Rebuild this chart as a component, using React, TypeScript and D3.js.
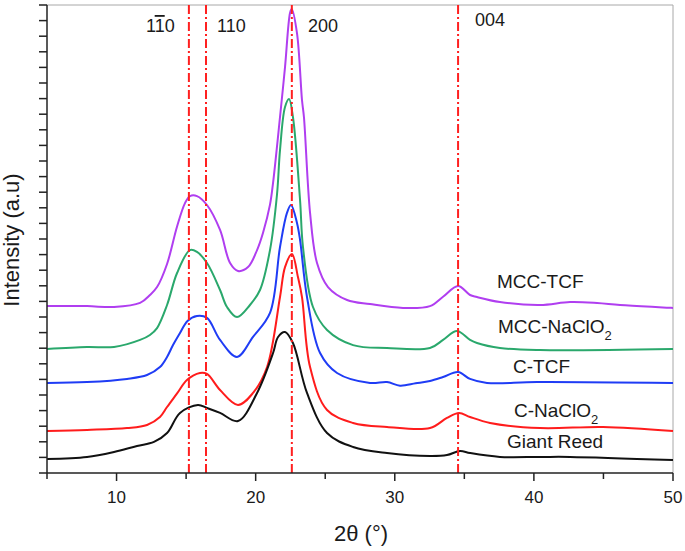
import React from "react";
import * as d3 from "d3";

type P = [number, number];

const seriesNames = ["MCC-TCF", "MCC-NaClO2", "C-TCF", "C-NaClO2", "Giant Reed"];

const mccTcf: P[] = [[5.0,1070],[7.88,1070],[9.82,1064],[11.69,1090],[12.40,1141],[12.91,1192],[13.63,1340],[14.35,1580],[14.92,1730],[15.28,1775],[15.78,1775],[16.50,1718],[17.44,1558],[18.16,1346],[18.73,1295],[19.45,1320],[20.10,1429],[20.53,1540],[21.03,1720],[21.25,1860],[21.75,2282],[22.11,2602],[22.47,2949],[22.59,2974],[22.97,2820],[23.33,2391],[23.47,2282],[23.91,1667],[24.41,1346],[25.20,1192],[26.57,1109],[28.22,1083],[30.59,1058],[32.53,1070],[33.47,1130],[34.55,1199],[35.41,1141],[35.91,1128],[37.56,1096],[40.44,1077],[42.60,1096],[44.54,1090],[46.19,1077],[50.0,1058]];

const mccNaClO2: P[] = [[5.0,795],[7.88,808],[9.82,808],[11.69,853],[12.40,885],[12.91,929],[13.63,1077],[14.35,1282],[15.28,1429],[15.78,1417],[16.50,1346],[17.44,1173],[17.94,1064],[18.66,1000],[19.59,1077],[20.31,1173],[21.03,1429],[21.53,1782],[21.75,2070],[22.11,2346],[22.40,2397],[22.68,2282],[23.19,1750],[23.40,1449],[24.12,1064],[25.13,917],[27.00,820],[29.44,801],[32.53,801],[33.47,853],[34.47,910],[35.41,853],[35.91,833],[37.56,801],[40.44,788],[50.0,795]];

const cTcf: P[] = [[5.0,577],[7.88,583],[10.75,603],[12.19,628],[13.12,679],[13.63,744],[14.06,820],[14.56,897],[15.10,975],[15.78,1006],[16.50,994],[17.44,853],[18.66,744],[19.81,872],[21.03,1026],[21.75,1449],[22.25,1667],[22.54,1718],[22.97,1603],[23.19,1494],[23.69,1128],[24.63,769],[25.85,641],[28.22,577],[29.44,583],[30.38,560],[31.5,575],[32.53,590],[33.47,615],[34.55,647],[35.41,603],[36.63,577],[40.22,583],[50.0,577]];

const cNaClO2: P[] = [[5.0,269],[7.88,276],[10.75,288],[12.19,308],[13.12,359],[13.63,423],[14.35,510],[15.06,596],[15.99,641],[16.50,635],[17.44,532],[18.73,436],[19.81,513],[20.82,679],[21.75,1128],[22.11,1320],[22.61,1404],[23.04,1256],[23.33,1128],[23.91,679],[25.13,404],[27.00,321],[29.44,295],[32.53,288],[33.75,353],[34.62,385],[35.41,359],[36.85,321],[40.44,288],[44.97,295],[50.0,269]];

const giantReed: P[] = [[5.0,90],[7.88,103],[9.82,135],[11.47,173],[12.69,199],[13.63,256],[14.56,385],[15.85,436],[16.50,417],[17.44,385],[18.73,333],[20.10,513],[21.25,769],[21.61,872],[22.11,904],[22.68,833],[23.69,513],[25.13,256],[27.00,167],[29.44,128],[32.53,109],[33.75,115],[34.69,141],[35.41,128],[37.56,103],[40.44,103],[42.60,103],[50.0,83]];

const seriesData: P[][] = [mccTcf, mccNaClO2, cTcf, cNaClO2, giantReed];
const seriesColors = ["#b03ef0", "#2aa86c", "#1f3cf5", "#ff1c1c", "#111111"];

const refLines = [15.2, 16.43, 22.6, 34.55];
const xTicks = [10, 20, 30, 40, 50];

export default function App() {
  const W = 685, H = 551;
  const left = 47, right = 673, top = 5, bottom = 473;
  const x = d3.scaleLinear().domain([5, 50]).range([left, right]);
  const y = d3.scaleLinear().domain([0, 3000]).range([bottom, top]);
  const line = d3.line<P>().x(d => x(d[0])).y(d => y(d[1])).curve(d3.curveCatmullRom.alpha(0.5));
  const minorX = d3.range(5, 51, 5);
  const yTicks = d3.range(0, 3001, 100);
  const font = "'Liberation Sans', Arial, sans-serif";

  const labelPos: { x: number; y: number; main: string; sub?: string }[] = [
    { x: 497, y: 288, main: "MCC-TCF" },
    { x: 498, y: 333, main: "MCC-NaClO", sub: "2" },
    { x: 513, y: 373, main: "C-TCF" },
    { x: 514, y: 417, main: "C-NaClO", sub: "2" },
    { x: 507, y: 448, main: "Giant Reed" },
  ];

  return (
    <svg width={W} height={H} style={{ position: "fixed", left: 0, top: 0, background: "#fff" }} fontFamily={font}>
      <rect x={0} y={0} width={W} height={H} fill="#fff" />
      <line x1={left} x2={right} y1={top} y2={top} stroke="#a8a8a8" strokeWidth={1} />
      <line x1={right} x2={right} y1={top} y2={bottom} stroke="#a8a8a8" strokeWidth={1} />

      {seriesData.map((s, i) => (
        <path key={seriesNames[i]} d={line(s) || ""} fill="none" stroke={seriesColors[i]} strokeWidth={2} strokeLinejoin="round" />
      ))}

      {refLines.map(v => (
        <line key={v} x1={x(v)} x2={x(v)} y1={top} y2={bottom} stroke="#ff2020" strokeWidth={2} strokeDasharray="9,3,2,3" />
      ))}

      <line x1={left} x2={left} y1={top} y2={bottom} stroke="#222" strokeWidth={1.5} />
      <line x1={left} x2={right} y1={bottom} y2={bottom} stroke="#222" strokeWidth={1.5} />
      {yTicks.map(t => (
        <line key={t} x1={left - 8} x2={left} y1={y(t)} y2={y(t)} stroke="#222" strokeWidth={1.5} />
      ))}
      {minorX.map(t => (
        <line key={t} x1={x(t)} x2={x(t)} y1={bottom} y2={bottom + (t % 10 === 0 ? 8 : 6)} stroke="#222" strokeWidth={1.5} />
      ))}
      {xTicks.map(t => (
        <text key={t} x={x(t)} y={503} textAnchor="middle" fontSize={17} fill="#1a1a1a">{t}</text>
      ))}

      <text x={361} y={541} textAnchor="middle" fontSize={22} fill="#1a1a1a">2θ (°)</text>
      <text transform="translate(19,240) rotate(-90)" textAnchor="middle" fontSize={22} fill="#1a1a1a">Intensity (a.u)</text>

      <text x={146} y={32} fontSize={18} fill="#1a1a1a">1<tspan textDecoration="overline" style={{ textDecoration: "overline" }}>1</tspan>0</text>
      <text x={217} y={32} fontSize={18} fill="#1a1a1a">110</text>
      <text x={308} y={32} fontSize={18} fill="#1a1a1a">200</text>
      <text x={475} y={26} fontSize={18} fill="#1a1a1a">004</text>

      {labelPos.map(l => (
        <text key={l.main} x={l.x} y={l.y} fontSize={19} fill="#1a1a1a">
          {l.main}
          {l.sub && <tspan dy={7} fontSize={13}>{l.sub}</tspan>}
        </text>
      ))}
    </svg>
  );
}
